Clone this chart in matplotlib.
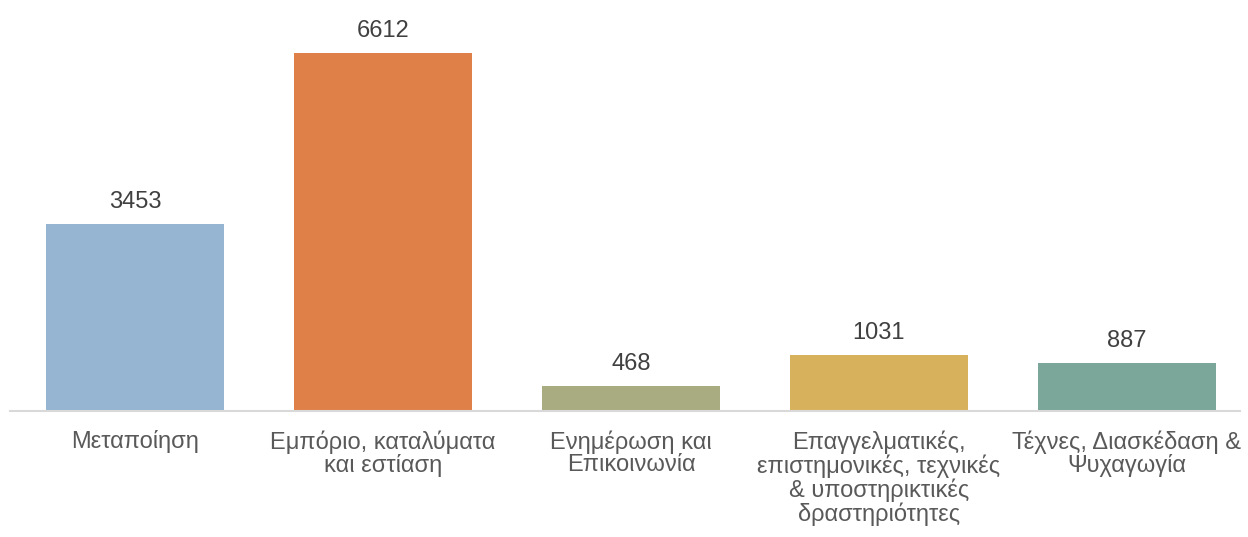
import numpy as np
import matplotlib.pyplot as plt

# Data
categories = ['Μεταποίηση',
              'Εμπόριο, καταλύματα\nκαι εστίαση',
              'Ενημέρωση και\nΕπικοινωνία',
              'Επαγγελματικές,\nεπιστημονικές, τεχνικές\n& υποστηρικτικές\nδραστηριότητες',
              'Τέχνες, Διασκέδαση &\nΨυχαγωγία']
values = [3453, 6612, 468, 1031, 887]
colors = ['#95B5D3', '#DE8048', '#A8AC80', '#D8B15C', '#7BA69A']

plt.rcParams['font.family'] = ['Liberation Sans', 'DejaVu Sans']

fig = plt.figure(figsize=(12.48, 5.37), dpi=100)
ax = fig.add_axes([10/1248, 126/537, 1230/1248, 411/537])

x = np.arange(len(values))
bars = ax.bar(x, values, width=0.718, color=colors)

# value labels above bars
for xi, v in zip(x, values):
    ax.annotate(str(v), (xi, v), xytext=(0, 8), textcoords='offset points',
                ha='center', va='bottom', fontsize=17, color='#404040')

ax.set_xlim(-0.504, 4.456)
ax.set_ylim(0, 6612 * 411 / 358)
ax.set_xticks(x)
ax.set_xticklabels(categories, fontsize=17, color='#595959', linespacing=1.03)
ax.tick_params(axis='x', length=0, pad=14)
ax.set_yticks([])
for s in ['top', 'right', 'left']:
    ax.spines[s].set_visible(False)
ax.spines['bottom'].set_color('#D9D9D9')
ax.spines['bottom'].set_linewidth(1.5)

fig.savefig('out.png', dpi=100)
